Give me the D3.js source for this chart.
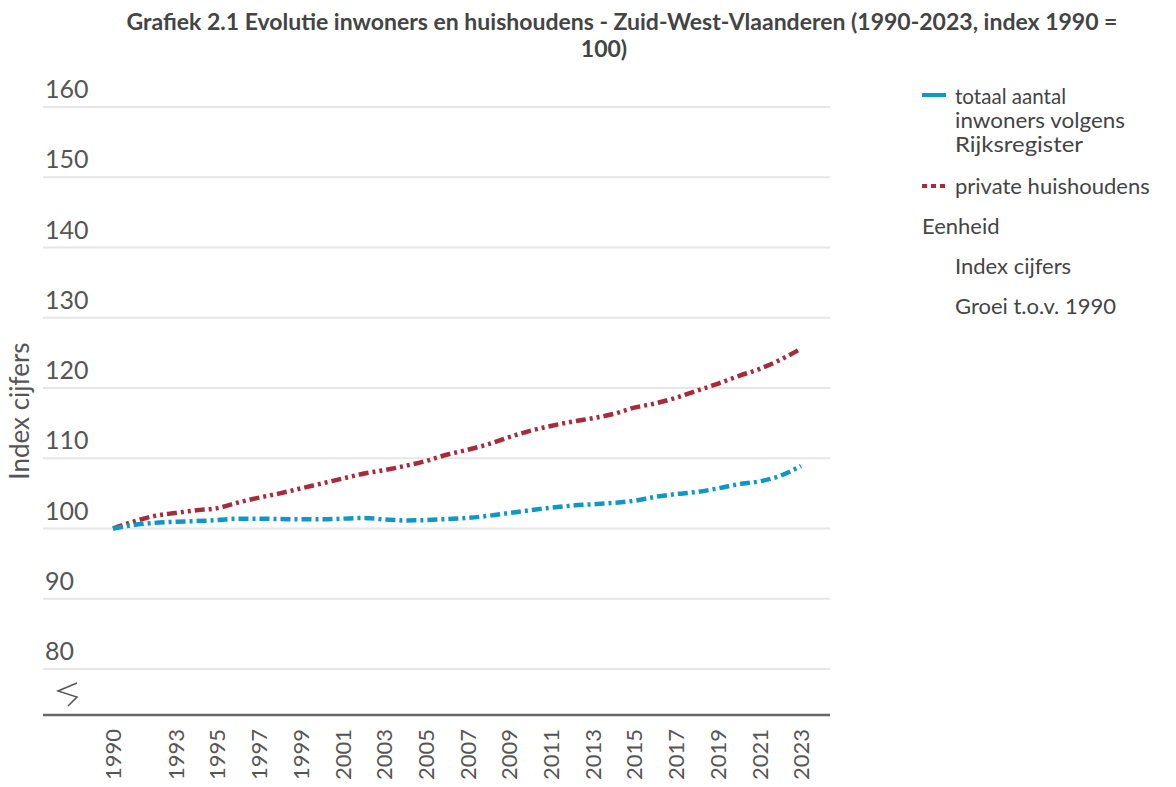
<!DOCTYPE html>
<html>
<head>
<meta charset="utf-8">
<script src="https://cdn.jsdelivr.net/npm/d3@7"></script>
<style>
  html, body { margin: 0; padding: 0; background: #fff; }
  svg { display: block; font-family: Lato, "Open Sans", sans-serif; }
</style>
</head>
<body>
<svg id="chart" width="1176" height="787"></svg>
<script>
const years = d3.range(1990, 2024);
const xTicks = [1990, 1993, 1995, 1997, 1999, 2001, 2003, 2005, 2007, 2009, 2011, 2013, 2015, 2017, 2019, 2021, 2023];
const yTicks = [80, 90, 100, 110, 120, 130, 140, 150, 160];

const inwoners = [100.0, 100.5, 100.8, 100.95, 101.05, 101.2, 101.4, 101.4, 101.35, 101.3,
  101.3, 101.4, 101.5, 101.3, 101.15, 101.2, 101.35, 101.5, 101.8, 102.2,
  102.6, 102.95, 103.25, 103.45, 103.65, 103.95, 104.5, 104.9, 105.2, 105.7,
  106.3, 106.7, 107.5, 108.9];
const huishoudens = [100.0, 101.0, 101.8, 102.2, 102.6, 102.9, 103.7, 104.4, 105.0, 105.7,
  106.4, 107.1, 107.8, 108.3, 108.9, 109.6, 110.5, 111.2, 112.0, 113.0,
  113.9, 114.6, 115.2, 115.7, 116.3, 117.2, 117.8, 118.6, 119.6, 120.6,
  121.7, 122.7, 124.0, 125.6];

const legendLines = ['totaal aantal', 'inwoners volgens', 'Rijksregister'];
const seriesNames = ['totaal aantal inwoners volgens Rijksregister', 'private huishoudens'];
const unitLabels = ['Index cijfers', 'Groei t.o.v. 1990'];
const titleLines = ['Grafiek 2.1 Evolutie inwoners en huishoudens - Zuid-West-Vlaanderen (1990-2023, index 1990 =', '100)'];

const blue = '#1197c6';
const red = '#a82a3b';
const textColor = '#555';

const svg = d3.select('#chart');

// titel
svg.append('g').selectAll('text').data(titleLines).enter()
  .append('text')
  .attr('x', (d, i) => i === 0 ? 622 : 604)
  .attr('y', (d, i) => 30 + i * 27)
  .attr('text-anchor', 'middle')
  .attr('font-size', 23)
  .attr('font-weight', 'bold')
  .attr('fill', '#444')
  .text(d => d);

const left = 43, right = 830;
const x = d3.scaleLinear().domain([1990, 2023]).range([113, 801]);
const y = d3.scaleLinear().domain([80, 160]).range([669, 107]);
const axisY = 715;

// rasterlijnen + labels
const grid = svg.append('g');
grid.selectAll('line').data(yTicks).enter()
  .append('line')
  .attr('x1', left).attr('x2', right)
  .attr('y1', d => y(d)).attr('y2', d => y(d))
  .attr('stroke', '#e6e6e6')
  .attr('stroke-width', 2);
grid.selectAll('text').data(yTicks).enter()
  .append('text')
  .attr('x', 45)
  .attr('y', d => y(d) - 9)
  .attr('font-size', 25)
  .attr('fill', textColor)
  .text(d => d);

// as-onderbreking
svg.append('path')
  .attr('d', 'M77,683 L58,691 L77,697 L68,706')
  .attr('fill', 'none')
  .attr('stroke', '#555')
  .attr('stroke-width', 1.5);

// x-as
svg.append('line')
  .attr('x1', left).attr('x2', right)
  .attr('y1', axisY).attr('y2', axisY)
  .attr('stroke', '#666')
  .attr('stroke-width', 2.5);

const xAxis = d3.axisBottom(x)
  .tickValues(xTicks)
  .tickFormat(d3.format('d'))
  .tickSize(0)
  .tickPadding(0);
const xg = svg.append('g')
  .attr('transform', `translate(0 ${axisY})`)
  .call(xAxis);
xg.select('.domain').remove();
xg.selectAll('text')
  .attr('font-size', 22)
  .attr('font-family', 'Lato, sans-serif')
  .attr('fill', textColor)
  .attr('transform', 'rotate(-90)')
  .attr('text-anchor', 'end')
  .attr('x', -14)
  .attr('y', 0)
  .attr('dy', '0.35em');

// y-as titel
svg.append('text')
  .attr('transform', 'translate(29 411) rotate(-90)')
  .attr('text-anchor', 'middle')
  .attr('font-size', 26)
  .attr('fill', textColor)
  .text('Index cijfers');

// lijnen
const line = d3.line()
  .x((d, i) => x(years[i]))
  .y(d => y(d))
  .curve(d3.curveMonotoneX);

svg.append('path')
  .datum(huishoudens)
  .attr('d', line)
  .attr('fill', 'none')
  .attr('stroke', red)
  .attr('stroke-width', 4.5)
  .attr('stroke-dasharray', '10,4,3,4,3,4');

svg.append('path')
  .datum(inwoners)
  .attr('d', line)
  .attr('fill', 'none')
  .attr('stroke', blue)
  .attr('stroke-width', 4.5)
  .attr('stroke-dasharray', '10,4,3,4');

// legende
const fs = 22;
const legend = svg.append('g');
legend.append('line')
  .attr('x1', 922).attr('x2', 946)
  .attr('y1', 95).attr('y2', 95)
  .attr('stroke', blue).attr('stroke-width', 4);
legend.selectAll('.wrap').data(legendLines).enter()
  .append('text')
  .attr('class', 'wrap')
  .attr('x', 955)
  .attr('y', (d, i) => 104 + i * 24)
  .attr('font-size', 21)
  .attr('textLength', (d, i) => [111, 170, 128][i])
  .attr('lengthAdjust', 'spacingAndGlyphs')
  .attr('fill', '#444')
  .text(d => d);
legend.append('line')
  .attr('x1', 922).attr('x2', 946)
  .attr('y1', 186).attr('y2', 186)
  .attr('stroke', red).attr('stroke-width', 4)
  .attr('stroke-dasharray', '5,4');
legend.append('text')
  .attr('x', 955).attr('y', 194)
  .attr('font-size', fs)
  .attr('fill', '#444')
  .text(seriesNames[1]);
legend.append('text')
  .attr('x', 922).attr('y', 234)
  .attr('font-size', fs)
  .attr('fill', '#444')
  .text('Eenheid');
legend.selectAll('.unit').data(unitLabels).enter()
  .append('text')
  .attr('class', 'unit')
  .attr('x', 955)
  .attr('y', (d, i) => 274 + i * 40)
  .attr('font-size', fs)
  .attr('fill', '#444')
  .text(d => d);
</script>
</body>
</html>
